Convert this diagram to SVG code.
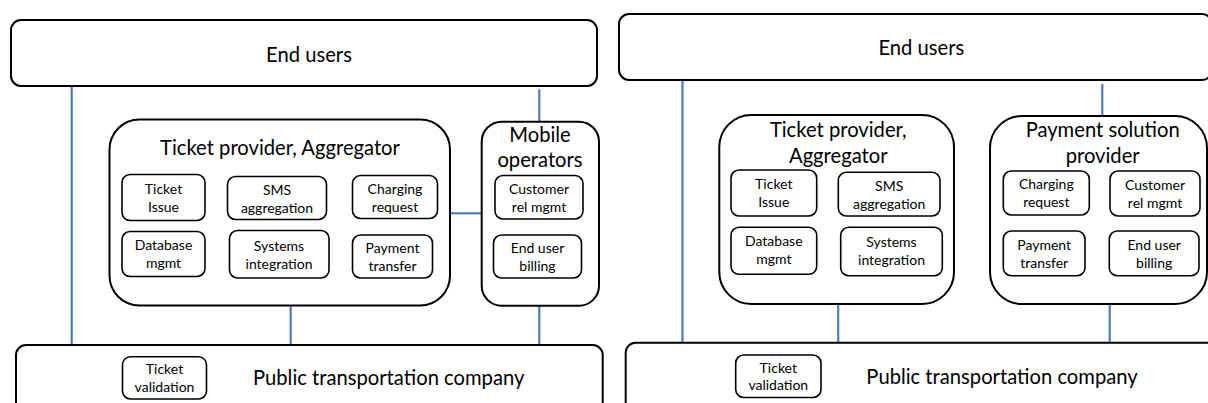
<svg xmlns="http://www.w3.org/2000/svg" width="1208" height="403" viewBox="0 0 1208 403">
  <style>
    .box { fill: #ffffff; stroke: #000000; stroke-width: 2; }
    .sub { fill: #ffffff; stroke: #000000; stroke-width: 1.6; }
    .big { font-family: Lato, "Liberation Sans", sans-serif; font-size: 20.2px; fill: #000000; text-anchor: middle; }
    .small { font-family: Lato, "Liberation Sans", sans-serif; font-size: 14px; fill: #000000; text-anchor: middle; }
    .link { stroke: #4A7EBB; stroke-width: 2.2; fill: none; }
  </style>

  <!-- connectors -->
  <g id="connectors">
    <line class="link" x1="71.7" y1="86" x2="71.7" y2="345"/>
    <line class="link" x1="290.7" y1="305.7" x2="290.7" y2="345"/>
    <line class="link" x1="539.3" y1="89.3" x2="539.3" y2="121.7"/>
    <line class="link" x1="539.3" y1="305.7" x2="539.3" y2="345"/>
    <line class="link" x1="450" y1="213.3" x2="481.7" y2="213.3"/>
    <line class="link" x1="682.5" y1="80" x2="682.5" y2="343"/>
    <line class="link" x1="838.2" y1="304" x2="838.2" y2="343"/>
    <line class="link" x1="1102.3" y1="84" x2="1102.3" y2="116"/>
    <line class="link" x1="1109.7" y1="304" x2="1109.7" y2="343"/>
  </g>

  <!-- left model -->
  <g id="end-users-a">
    <rect class="box" x="11" y="20" width="586" height="66" rx="10"/>
    <text class="big" x="309" y="61.5">End users</text>
  </g>

  <g id="ticket-provider-a">
    <rect class="box" x="109.5" y="119.5" width="340.5" height="186" rx="30"/>
    <text class="big" x="280" y="155">Ticket provider, Aggregator</text>
  </g>
  <g id="ticket-issue-a">
    <rect class="sub" x="122" y="174.5" width="83" height="46" rx="8"/>
    <text class="small" x="163.5" y="193.5">Ticket<tspan x="163.5" y="211.5">Issue</tspan></text>
  </g>
  <g id="sms-aggregation-a">
    <rect class="sub" x="227.5" y="176.5" width="99" height="43" rx="8"/>
    <text class="small" x="277" y="194.5">SMS<tspan x="277" y="212.5">aggregation</tspan></text>
  </g>
  <g id="charging-request-a">
    <rect class="sub" x="352.5" y="175.5" width="85" height="43" rx="8"/>
    <text class="small" x="395" y="193.5">Charging<tspan x="395" y="211.5">request</tspan></text>
  </g>
  <g id="database-mgmt-a">
    <rect class="sub" x="122" y="231.5" width="83" height="45" rx="8"/>
    <text class="small" x="163.5" y="250">Database<tspan x="163.5" y="268">mgmt</tspan></text>
  </g>
  <g id="systems-integration-a">
    <rect class="sub" x="229.5" y="230.5" width="99.5" height="47.5" rx="8"/>
    <text class="small" x="279" y="250.5">Systems<tspan x="279" y="268.5">integration</tspan></text>
  </g>
  <g id="payment-transfer-a">
    <rect class="sub" x="352.5" y="235" width="80" height="43" rx="8"/>
    <text class="small" x="392.5" y="253">Payment<tspan x="392.5" y="271">transfer</tspan></text>
  </g>

  <g id="mobile-operators">
    <rect class="box" x="481.7" y="121.7" width="117.3" height="184" rx="20"/>
    <text class="big" x="540" y="141.7">Mobile<tspan x="540" y="167.3">operators</tspan></text>
  </g>
  <g id="customer-rel-mgmt-a">
    <rect class="sub" x="495" y="175.5" width="88" height="43.5" rx="8"/>
    <text class="small" x="539" y="193.5">Customer<tspan x="539" y="211.5">rel mgmt</tspan></text>
  </g>
  <g id="end-user-billing-a">
    <rect class="sub" x="493.5" y="235" width="88" height="43" rx="8"/>
    <text class="small" x="537.5" y="253">End user<tspan x="537.5" y="271">billing</tspan></text>
  </g>

  <g id="public-transport-a">
    <rect class="box" x="16" y="345" width="586.7" height="80" rx="10"/>
    <text class="big" x="388.7" y="385">Public transportation company</text>
  </g>
  <g id="ticket-validation-a">
    <rect class="sub" x="122.5" y="356.7" width="84" height="42.3" rx="8"/>
    <text class="small" x="164.5" y="374">Ticket<tspan x="164.5" y="391.7">validation</tspan></text>
  </g>

  <!-- right model -->
  <g id="end-users-b">
    <rect class="box" x="619" y="14" width="593" height="66" rx="10"/>
    <text class="big" x="921.3" y="55">End users</text>
  </g>

  <g id="ticket-provider-b">
    <rect class="box" x="719.3" y="115" width="234.7" height="189" rx="32"/>
    <text class="big" x="838.3" y="136.7">Ticket provider,<tspan x="838.3" y="163.3">Aggregator</tspan></text>
  </g>
  <g id="ticket-issue-b">
    <rect class="sub" x="731" y="170" width="85.7" height="46" rx="8"/>
    <text class="small" x="773.8" y="188.8">Ticket<tspan x="773.8" y="206.8">Issue</tspan></text>
  </g>
  <g id="sms-aggregation-b">
    <rect class="sub" x="838.3" y="172.3" width="101.7" height="43.7" rx="8"/>
    <text class="small" x="889.2" y="190.5">SMS<tspan x="889.2" y="208.5">aggregation</tspan></text>
  </g>
  <g id="database-mgmt-b">
    <rect class="sub" x="731" y="227.3" width="85.7" height="47" rx="8"/>
    <text class="small" x="773.8" y="246">Database<tspan x="773.8" y="264">mgmt</tspan></text>
  </g>
  <g id="systems-integration-b">
    <rect class="sub" x="840.7" y="227.3" width="101.6" height="48.4" rx="8"/>
    <text class="small" x="891.5" y="246.5">Systems<tspan x="891.5" y="264.5">integration</tspan></text>
  </g>

  <g id="payment-solution-provider">
    <rect class="box" x="990" y="116" width="217" height="188" rx="32"/>
    <text class="big" x="1102.7" y="136.7">Payment solution<tspan x="1102.7" y="163.3">provider</tspan></text>
  </g>
  <g id="charging-request-b">
    <rect class="sub" x="1003.3" y="171" width="86" height="44" rx="8"/>
    <text class="small" x="1046.3" y="189">Charging<tspan x="1046.3" y="207">request</tspan></text>
  </g>
  <g id="customer-rel-mgmt-b">
    <rect class="sub" x="1110" y="171" width="90" height="45" rx="8"/>
    <text class="small" x="1155" y="189.5">Customer<tspan x="1155" y="207.5">rel mgmt</tspan></text>
  </g>
  <g id="payment-transfer-b">
    <rect class="sub" x="1003.3" y="231" width="81.7" height="44.7" rx="8"/>
    <text class="small" x="1044.2" y="249.5">Payment<tspan x="1044.2" y="267.5">transfer</tspan></text>
  </g>
  <g id="end-user-billing-b">
    <rect class="sub" x="1109.3" y="231" width="89.7" height="44.7" rx="8"/>
    <text class="small" x="1154.2" y="249.5">End user<tspan x="1154.2" y="267.5">billing</tspan></text>
  </g>

  <g id="public-transport-b">
    <rect class="box" x="625.7" y="342.7" width="592" height="82" rx="10"/>
    <text class="big" x="1002" y="384">Public transportation company</text>
  </g>
  <g id="ticket-validation-b">
    <rect class="sub" x="735.7" y="355" width="85.3" height="42.5" rx="8"/>
    <text class="small" x="778.3" y="372.5">Ticket<tspan x="778.3" y="390">validation</tspan></text>
  </g>
</svg>
